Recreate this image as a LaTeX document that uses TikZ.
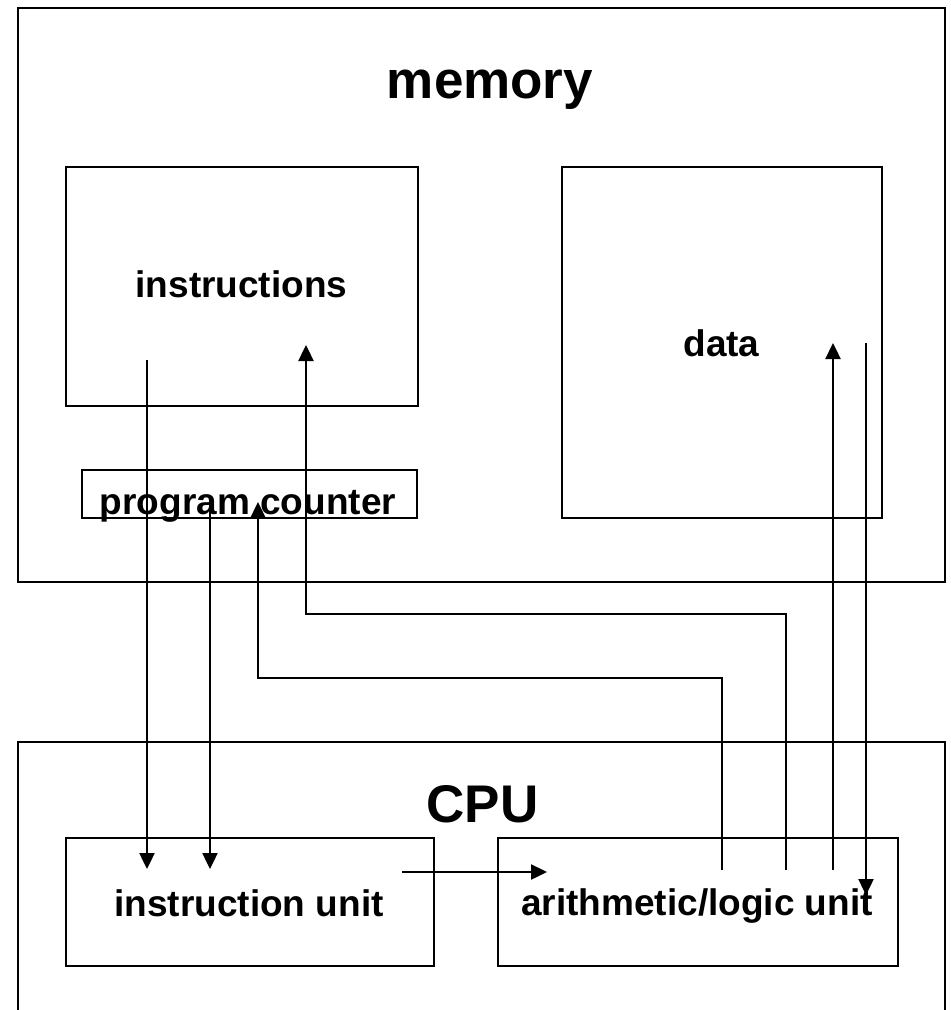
\documentclass[tikz,border=0pt]{standalone}
\usepackage{fontspec}
\setmainfont{Liberation Sans}
\usetikzlibrary{arrows.meta}
\begin{document}
\begin{tikzpicture}[x=1pt,y=-1pt,
  box/.style={draw,line width=2.6pt,rectangle,inner sep=0pt},
  lbl/.style={font=\bfseries\fontsize{37}{40}\selectfont,anchor=base,inner sep=0pt},
  title/.style={font=\bfseries\fontsize{53}{56}\selectfont,anchor=base,inner sep=0pt},
  arr/.style={line width=2.4pt,-{Triangle[length=16pt,width=15pt]}}]
\useasboundingbox (0,0) rectangle (951,1010);
% boxes
\node[box,minimum width=927pt,minimum height=574pt] (memory) at (481.5,295) {};
\node[box,minimum width=352pt,minimum height=239pt] (instr) at (242,286.5) {};
\node[box,minimum width=320pt,minimum height=351pt] (data) at (722,342.5) {};
\node[box,minimum width=335pt,minimum height=48pt,fill=white] (pc) at (249.5,494) {};
\node[box,minimum width=927pt,minimum height=290pt] (cpu) at (481.5,887) {};
\node[box,minimum width=368pt,minimum height=128pt] (iu) at (250,902) {};
\node[box,minimum width=400pt,minimum height=128pt] (alu) at (698,902) {};
% texts
\node[title] (tmem) at (490,98) {memory};
\node[title] (tcpu) at (482.5,822) {CPU};
\node[lbl] (tinstr) at (241.5,297) {instructions};
\node[lbl] (tdata) at (721.5,356) {data};
\node[lbl] (tpc) at (248,514) {program counter};
\node[lbl] (tiu) at (249,916) {instruction unit};
\node[lbl] (talu) at (697,915) {arithmetic/logic unit};
% connector endpoints
\coordinate (a1s) at (147,360); \coordinate (a1e) at (147,869);
\coordinate (a2s) at (210,510); \coordinate (a2e) at (210,869);
\coordinate (a3s) at (722,870); \coordinate (a3e) at (258,502);
\coordinate (a4s) at (786,870); \coordinate (a4e) at (306,345);
\coordinate (a5s) at (833,870); \coordinate (a5e) at (833,343);
\coordinate (a6s) at (866,343); \coordinate (a6e) at (866,895);
\coordinate (a7s) at (402,872); \coordinate (a7e) at (547,872);
% connectors
\draw[arr] (a1s) -- (a1e);
\draw[arr] (a2s) -- (a2e);
\draw[arr] (a3s) -- (722,678) -- (258,678) -- (a3e);
\draw[arr] (a4s) -- (786,614) -- (306,614) -- (a4e);
\draw[arr] (a5s) -- (a5e);
\draw[arr] (a6s) -- (a6e);
\draw[arr] (a7s) -- (a7e);
\end{tikzpicture}
\end{document}
